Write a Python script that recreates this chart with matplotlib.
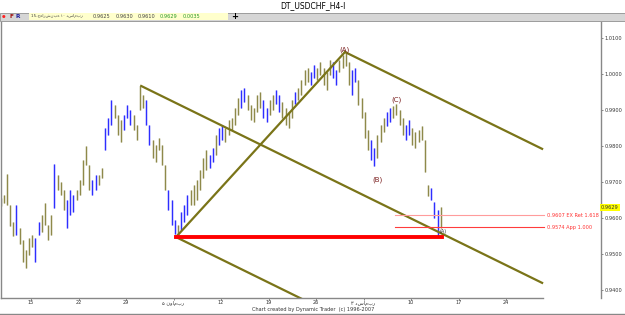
import matplotlib.pyplot as plt
from matplotlib.lines import Line2D
from matplotlib.patches import Rectangle
import matplotlib.transforms as mtransforms

# H4 bars (three per trading day shown), highs and lows
highs = [0.9656, 0.9664, 0.9722, 0.9636, 0.9589, 0.9636, 0.9572, 0.9539, 0.9511, 0.9544,
         0.9553, 0.9544, 0.9589, 0.9608, 0.9642, 0.9581, 0.9608, 0.9750, 0.9719, 0.9700,
         0.9678, 0.9650, 0.9678, 0.9664, 0.9678, 0.9706, 0.9761, 0.9800, 0.9747, 0.9706,
         0.9719, 0.9719, 0.9739, 0.9850, 0.9878, 0.9928, 0.9914, 0.9886, 0.9872, 0.9886,
         0.9914, 0.9900, 0.9886, 0.9858, 0.9967, 0.9942, 0.9928, 0.9858, 0.9817, 0.9803,
         0.9822, 0.9803, 0.9747, 0.9678, 0.9650, 0.9594, 0.9581, 0.9617, 0.9636, 0.9664,
         0.9678, 0.9692, 0.9706, 0.9733, 0.9767, 0.9789, 0.9775, 0.9794, 0.9831, 0.9850,
         0.9858, 0.9850, 0.9872, 0.9878, 0.9906, 0.9933, 0.9956, 0.9961, 0.9942, 0.9914,
         0.9906, 0.9942, 0.9950, 0.9928, 0.9906, 0.9928, 0.9942, 0.9956, 0.9942, 0.9922,
         0.9906, 0.9894, 0.9928, 0.9950, 0.9961, 0.9983, 1.0011, 1.0017, 1.0006, 1.0025,
         1.0017, 1.0033, 1.0017, 1.0006, 1.0039, 1.0033, 1.0011, 1.0039, 1.0053, 1.0061,
         1.0033, 1.0011, 1.0017, 0.9983, 0.9933, 0.9894, 0.9844, 0.9817, 0.9794, 0.9831,
         0.9858, 0.9878, 0.9894, 0.9906, 0.9911, 0.9917, 0.9900, 0.9878, 0.9858, 0.9872,
         0.9850, 0.9839, 0.9844, 0.9856, 0.9817, 0.9692, 0.9683, 0.9644, 0.9622, 0.9630]
lows = [0.9633, 0.9642, 0.9636, 0.9578, 0.9550, 0.9553, 0.9528, 0.9478, 0.9461, 0.9497,
        0.9519, 0.9478, 0.9553, 0.9561, 0.9581, 0.9539, 0.9553, 0.9628, 0.9678, 0.9664,
        0.9622, 0.9572, 0.9608, 0.9617, 0.9650, 0.9664, 0.9692, 0.9747, 0.9678, 0.9664,
        0.9678, 0.9692, 0.9711, 0.9789, 0.9831, 0.9858, 0.9878, 0.9831, 0.9811, 0.9844,
        0.9878, 0.9858, 0.9844, 0.9817, 0.9900, 0.9906, 0.9858, 0.9803, 0.9767, 0.9756,
        0.9789, 0.9747, 0.9678, 0.9622, 0.9581, 0.9556, 0.9547, 0.9567, 0.9589, 0.9608,
        0.9636, 0.9636, 0.9650, 0.9678, 0.9711, 0.9733, 0.9739, 0.9756, 0.9775, 0.9803,
        0.9817, 0.9811, 0.9831, 0.9844, 0.9858, 0.9886, 0.9906, 0.9922, 0.9900, 0.9872,
        0.9867, 0.9894, 0.9906, 0.9878, 0.9867, 0.9886, 0.9900, 0.9917, 0.9894, 0.9878,
        0.9858, 0.9850, 0.9878, 0.9917, 0.9928, 0.9942, 0.9969, 0.9978, 0.9969, 0.9989,
        0.9983, 0.9997, 0.9969, 0.9956, 0.9997, 0.9989, 0.9969, 1.0006, 1.0017, 1.0022,
        0.9969, 0.9942, 0.9978, 0.9914, 0.9878, 0.9822, 0.9789, 0.9761, 0.9744, 0.9767,
        0.9811, 0.9839, 0.9856, 0.9867, 0.9878, 0.9886, 0.9858, 0.9831, 0.9817, 0.9831,
        0.9803, 0.9794, 0.9811, 0.9817, 0.9728, 0.9661, 0.9650, 0.9600, 0.9550, 0.9572]
blue_bars = [5, 11, 12, 17, 21, 22, 23, 29, 30, 33, 34, 35, 39, 40, 41, 46, 47, 53, 54, 55,
             57, 58, 59, 66, 67, 69, 70, 76, 77, 83, 84, 87, 88, 93, 98, 99, 105, 106, 111,
             112, 117, 118, 122, 123, 128, 129, 136, 137, 138]

# pivots (trading day from Oct 15, price)
piv_day = [11.6, 15.26, 33.05]
piv_price = [0.99667, 0.9547, 1.0061]
pivot_names = ['(A)', '(B)', '(C)', '(A)']
pivot_label_day = [33.05, 36.5, 38.5, 43.4]
pivot_label_price = [1.0068, 0.9706, 0.9928, 0.9562]

support = 0.9547
ex_ret = 0.9607
app = 0.9574
last_close = 0.9629

tick_days = [0, 5, 10, 15, 20, 25, 30, 35, 40, 45, 50]
tick_labels = ['15', '22', '29', '۵ نوامبر', '12', '19', '26', '۳ دسامبر', '10', '17', '24']
y_ticks = [0.94, 0.95, 0.96, 0.97, 0.98, 0.99, 1.00, 1.01]

W, H = 625, 315
fig = plt.figure(figsize=(W / 100, H / 100), dpi=100)
fig.patch.set_facecolor('white')
ax = fig.add_axes([1 / W, 17 / H, 600 / W, 276 / H])

olive = '#8c8746'
blue = '#2a2aff'
for i in range(len(highs)):
    d = -3.2 + i / 3
    c = blue if i in blue_bars else olive
    ax.plot([d, d], [lows[i], highs[i]], color=c, lw=1.8, alpha=0.3, solid_capstyle='butt')
    ax.plot([d, d], [lows[i], highs[i]], color=c, lw=0.7, solid_capstyle='butt')

# pitchfork
line_c = '#7a7418'
end_day = 53.8
mid_d = (piv_day[1] + piv_day[2]) / 2
mid_p = (piv_price[1] + piv_price[2]) / 2
slope = (mid_p - piv_price[0]) / (mid_d - piv_day[0])
for d0, p0 in zip(piv_day, piv_price):
    ax.plot([d0, end_day], [p0, p0 + slope * (end_day - d0)], color=line_c, lw=1.6)
ax.plot(piv_day[1:], piv_price[1:], color=line_c, lw=1.6)

ax.plot([piv_day[1], 43.3], [support, support], color='#ff0000', lw=2.8)
ax.plot([38.3, 54.0], [ex_ret, ex_ret], color='#ff9c9c', lw=0.8)
ax.plot([38.3, 54.0], [app, app], color='#ff3c3c', lw=0.8)
ax.text(54.3, ex_ret, '0.9607 EX Ret 1.618', color='#ff3030', fontsize=3.6, va='center')
ax.text(54.3, app, '0.9574 App 1.000', color='#ff3030', fontsize=3.6, va='center')

for k, (name, d, p) in enumerate(zip(pivot_names, pivot_label_day, pivot_label_price)):
    ax.text(d, p, name, color='#7a1e1e' if k < 3 else '#333333',
            fontsize=5 if k < 3 else 3.6, ha='center', va='center')

ax.set_xlim(-3.16, 60.0)
ax.set_ylim(0.93778, 1.01444)
ax.set_xticks(tick_days)
ax.set_xticklabels(tick_labels, fontsize=3.6)
ax.set_yticks(y_ticks)
ax.set_yticklabels(['%.4f' % v for v in y_ticks], fontsize=3.6)
ax.yaxis.tick_right()
ax.tick_params(axis='both', length=1.5, width=0.5, colors='#555555', pad=1.0)
ax.tick_params(axis='x', labelcolor='#333333', pad=0.3)
ax.tick_params(axis='y', labelcolor='#333333')
ax.spines['top'].set_visible(False)
for s in ['left', 'right', 'bottom']:
    ax.spines[s].set_color('#888888')
    ax.spines[s].set_linewidth(1.0)
ax.spines['bottom'].set_bounds(-3.16, 53.9)

trans = mtransforms.blended_transform_factory(ax.transAxes, ax.transData)
ax.text(1.0, last_close, '0.9629', transform=trans, fontsize=3.6, va='center', ha='left',
        color='#333333', bbox=dict(boxstyle='square,pad=0.15', fc='#ffff00', ec='none'))

# header: title and toolbar strip
fig.text(0.5, 1 - 6 / H, 'DT_USDCHF_H4-I', ha='center', va='center', fontsize=5.5)
fig.add_artist(Rectangle((0, 1 - 21 / H), 1, 8 / H, transform=fig.transFigure,
                         fc='#d6d6d6', ec='#909090', lw=0.6))
fig.add_artist(Rectangle((29 / W, 1 - 20 / H), 199 / W, 6.5 / H, transform=fig.transFigure,
                         fc='#ffffcc', ec='none'))
fig.text(4 / W, 1 - 16.5 / H, '●', color='#ff2020', fontsize=3, va='center', ha='center')
fig.text(12 / W, 1 - 16.5 / H, 'F', color='#a01010', fontsize=4.2, va='center', ha='center',
         weight='bold')
fig.text(18 / W, 1 - 16.5 / H, 'R', color='#2020a0', fontsize=4.2, va='center', ha='center',
         weight='bold')
fig.text(31 / W, 1 - 16.5 / H, '15-چهارشنبه ۱۰ دسامبر', fontsize=3.0, va='center',
         color='#444444')
quote_vals = ['0.9625', '0.9630', '0.9610', '0.9629', '0.0035']
quote_px = [93, 116, 138, 160, 183]
for k, (q, qx) in enumerate(zip(quote_vals, quote_px)):
    fig.text(qx / W, 1 - 16.5 / H, q, fontsize=3.6, va='center',
             color='#444444' if k < 3 else '#2a9a2a')
fig.text(235 / W, 1 - 16.5 / H, '+', fontsize=6, va='center', ha='center', weight='bold')

fig.text(313 / W, 1 - 310 / H, 'Chart created by Dynamic Trader  (c) 1996-2007',
         ha='center', va='center', fontsize=3.6, color='#333333')
fig.add_artist(Line2D([0, 1], [1 / H, 1 / H], transform=fig.transFigure, color='#888888', lw=1))

fig.savefig('out.png', dpi=100)
